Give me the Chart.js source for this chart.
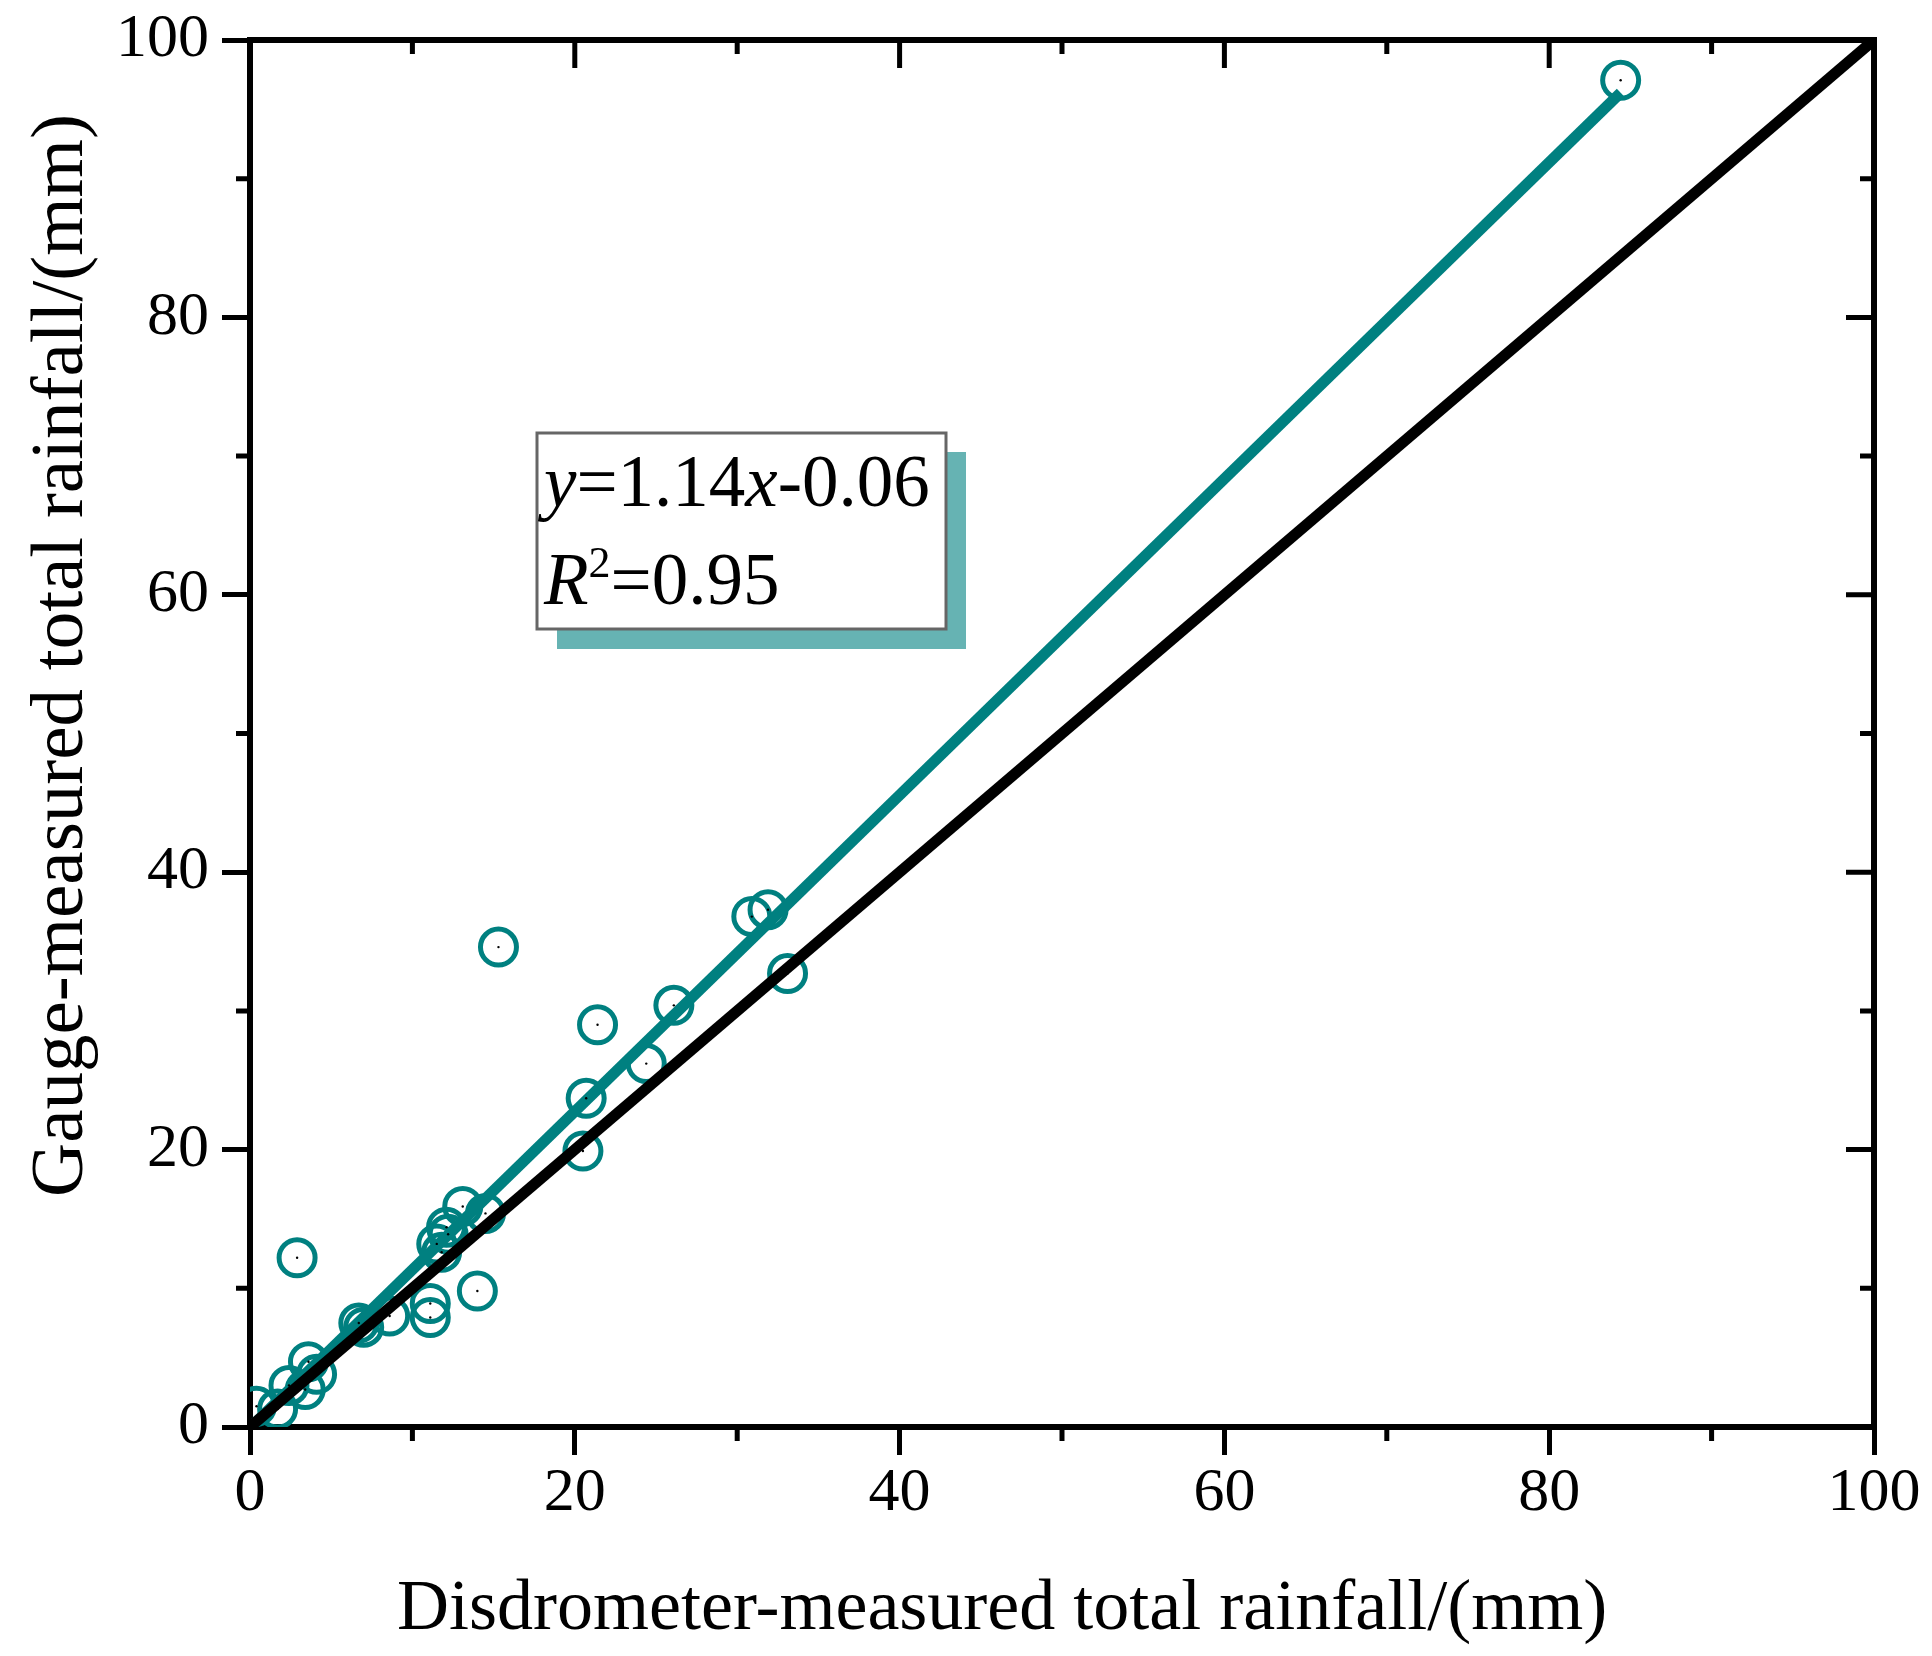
<!DOCTYPE html>
<html>
<head>
<meta charset="utf-8">
<script src="https://cdn.jsdelivr.net/npm/chart.js@4"></script>
<style>
  body { margin: 0; background: #fff; }
  canvas { display: block; }
</style>
</head>
<body>
<canvas id="rain" width="1932" height="1656"></canvas>
<script>
// disdrometer (x) vs gauge (y) total rainfall, mm
const disdroX = [84.4, 30.9, 31.9, 33.1, 15.3, 26.1, 21.4, 24.4, 20.7, 20.5,
  13.1, 14.5, 12.2, 12.1, 11.5, 11.8, 2.9, 14.0, 11.1, 11.1,
  8.6, 6.7, 7.0, 3.6, 4.1, 3.4, 2.4, 1.7, 0.4];
const gaugeY = [97.1, 36.8, 37.3, 32.7, 34.6, 30.4, 29.0, 26.2, 23.7, 19.9,
  15.9, 15.4, 13.9, 14.4, 13.2, 12.6, 12.2, 9.8, 8.9, 7.9,
  8.0, 7.5, 7.2, 4.7, 3.8, 2.7, 3.0, 1.3, 1.5];

// fitted line end points and the 1:1 line
const fitX = [0.3, 84.4];
const fitY = [0.28, 96.2];
const oneX = [0, 100];
const oneY = [0, 100];

const axisTicks = [0, 20, 40, 60, 80, 100];
const xTitle = "Disdrometer-measured total rainfall/(mm)";
const yTitle = "Gauge-measured total rainfall/(mm)";

const teal = "#008080";
const serif = '"Liberation Serif", "Times New Roman", serif';

const toPts = (xs, ys) => xs.map((x, i) => ({ x: x, y: ys[i] }));

const framePlugin = {
  id: "frame",
  afterDraw(chart) {
    const ctx = chart.ctx;
    const a = chart.chartArea;
    const sx = chart.scales.x;
    const sy = chart.scales.y;
    ctx.save();
    ctx.strokeStyle = "#000";
    ctx.lineCap = "butt";

    // top and right border
    ctx.lineWidth = 6;
    ctx.beginPath();
    ctx.moveTo(a.left - 3, a.top);
    ctx.lineTo(a.right + 3, a.top);
    ctx.moveTo(a.right, a.top);
    ctx.lineTo(a.right, a.bottom + 3);
    ctx.stroke();

    ctx.lineWidth = 5;
    ctx.beginPath();
    for (let v = 0; v <= 100; v += 10) {
      const major = v % 20 === 0;
      const px = sx.getPixelForValue(v);
      const py = sy.getPixelForValue(v);
      const len = major ? 28 : 14;
      // minor ticks outward on bottom/left
      if (!major) {
        ctx.moveTo(px, a.bottom); ctx.lineTo(px, a.bottom + len);
        ctx.moveTo(a.left, py); ctx.lineTo(a.left - len, py);
      }
      // inward ticks on top/right
      ctx.moveTo(px, a.top); ctx.lineTo(px, a.top + len);
      ctx.moveTo(a.right, py); ctx.lineTo(a.right - len, py);
    }
    ctx.stroke();

    // axis titles
    ctx.fillStyle = "#000";
    ctx.textBaseline = "alphabetic";
    ctx.textAlign = "left";
    ctx.font = "72px " + serif;
    ctx.fillText(xTitle, 397, 1629);
    ctx.save();
    ctx.font = "75px " + serif;
    ctx.translate(82, 1197);
    ctx.rotate(-Math.PI / 2);
    ctx.fillText(yTitle, 0, 0);
    ctx.restore();

    // equation box with shadow
    ctx.fillStyle = "#66b3b3";
    ctx.fillRect(557, 452, 409, 197);
    ctx.fillStyle = "#fff";
    ctx.fillRect(537, 433, 409, 196);
    ctx.strokeStyle = "#666";
    ctx.lineWidth = 3;
    ctx.strokeRect(537, 433, 409, 196);

    ctx.fillStyle = "#000";
    let x = 544;
    const part = (txt, font, y) => {
      ctx.font = font;
      ctx.fillText(txt, x, y);
      x += ctx.measureText(txt).width;
    };
    part("y", "italic 73px " + serif, 506);
    part("=1.14", "73px " + serif, 506);
    part("x", "italic 73px " + serif, 506);
    part("-0.06", "73px " + serif, 506);
    x = 544;
    part("R", "italic 73px " + serif, 604);
    part("2", "44px " + serif, 577);
    part("=0.95", "73px " + serif, 604);
    ctx.restore();
  }
};

const axisOpts = (fitProp, fitSize) => ({
  type: "linear",
  min: 0,
  max: 100,
  afterBuildTicks: (scale) => {
    scale.ticks = axisTicks.map((v) => ({ value: v }));
  },
  afterFit: (scale) => {
    scale[fitProp] = fitSize;
    // let layout padding alone decide the plot frame
    scale.paddingTop = 0;
    scale.paddingBottom = 0;
    scale.paddingLeft = 0;
    scale.paddingRight = 0;
  },
  ticks: {
    color: "#000",
    font: { family: serif, size: 62 },
    padding: fitProp === "width" ? 13 : 2,
    maxRotation: 0,
  },
  grid: {
    drawOnChartArea: false,
    drawTicks: true,
    tickLength: 28,
    tickWidth: 5,
    tickColor: "#000",
  },
  border: { display: true, color: "#000", width: 6 },
});

new Chart(document.getElementById("rain").getContext("2d"), {
  type: "scatter",
  data: {
    datasets: [
      {
        label: "samples",
        data: toPts(disdroX, gaugeY),
        pointStyle: "circle",
        pointRadius: 18,
        pointBorderWidth: 5,
        pointBorderColor: teal,
        pointBackgroundColor: "rgba(0,0,0,0)",
        order: 4,
      },
      {
        label: "fit",
        type: "line",
        data: toPts(fitX, fitY),
        borderColor: teal,
        borderWidth: 11,
        pointRadius: 0,
        fill: false,
        order: 3,
      },
      {
        label: "1:1",
        type: "line",
        data: toPts(oneX, oneY),
        borderColor: "#000",
        borderWidth: 11,
        pointRadius: 0,
        fill: false,
        order: 2,
      },
      {
        label: "centres",
        data: toPts(disdroX, gaugeY),
        pointRadius: 1.2,
        pointBorderWidth: 0,
        pointBackgroundColor: "#000",
        order: 1,
      },
    ],
  },
  options: {
    responsive: false,
    devicePixelRatio: 1,
    animation: false,
    layout: { padding: { top: 40, right: 58, left: 0, bottom: 0 } },
    scales: {
      x: axisOpts("height", 229),
      y: axisOpts("width", 250),
    },
    plugins: {
      legend: { display: false },
      tooltip: { enabled: false },
    },
  },
  plugins: [framePlugin],
});
</script>
</body>
</html>
